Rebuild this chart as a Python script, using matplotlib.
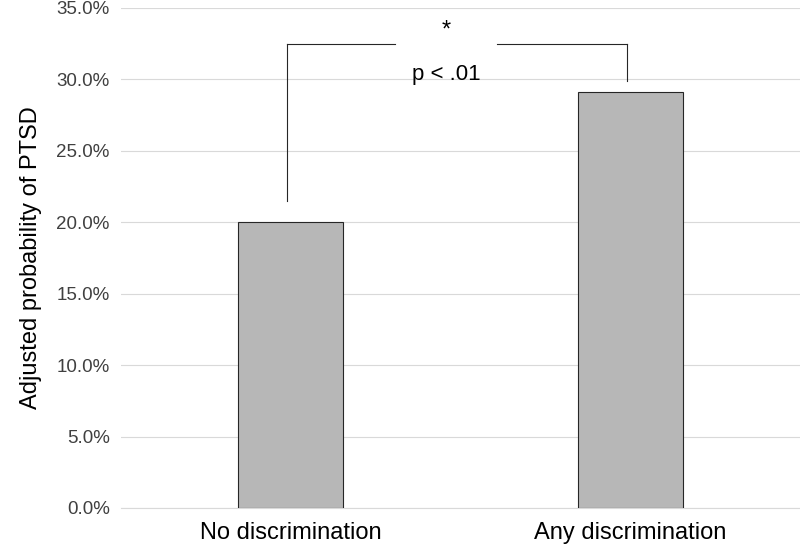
import matplotlib.pyplot as plt
from matplotlib.ticker import PercentFormatter

categories = ["No discrimination", "Any discrimination"]
values = [20.0, 29.1]
y_ticks = [0, 5, 10, 15, 20, 25, 30, 35]

plt.rcParams["font.family"] = "Liberation Sans"

fig = plt.figure(figsize=(8, 5.57), dpi=100)
ax = fig.add_axes([0.151, 0.088, 0.849, 0.898])

x = list(range(len(categories)))
ax.bar(x, values, width=0.31, color="#b7b7b7", edgecolor="#262626", linewidth=0.8, zorder=3)

ax.set_xlim(-0.5, 1.5)
ax.set_ylim(0, 35)
ax.set_yticks(y_ticks)
ax.yaxis.set_major_formatter(PercentFormatter(decimals=1))
ax.set_xticks(x)
ax.set_xticklabels(categories, fontsize=17)
ax.tick_params(axis="y", labelsize=13.5, length=0, colors="#404040", pad=8)
ax.tick_params(axis="x", length=0, pad=10)
ax.grid(axis="y", color="#d9d9d9", linewidth=0.8, zorder=0)
for s in ["top", "right", "left"]:
    ax.spines[s].set_visible(False)
ax.spines["bottom"].set_color("#d9d9d9")
ax.set_ylabel("Adjusted probability of PTSD", fontsize=17, labelpad=10)

# significance bracket
top = 32.45
xl, xr = -0.012, 0.991
gap_l, gap_r = 0.308, 0.608
kw = dict(color="#262626", linewidth=0.8)
ax.plot([xl, xl], [21.5, top], **kw)
ax.plot([xl, gap_l], [top, top], **kw)
ax.plot([gap_r, xr], [top, top], **kw)
ax.plot([xr, xr], [top, 29.9], **kw)
mid = (gap_l + gap_r) / 2
ax.text(mid, 33.4, "*", ha="center", va="center", fontsize=17)
ax.text(mid, 30.3, "p < .01", ha="center", va="center", fontsize=16)

fig.savefig("out.png", dpi=100)
